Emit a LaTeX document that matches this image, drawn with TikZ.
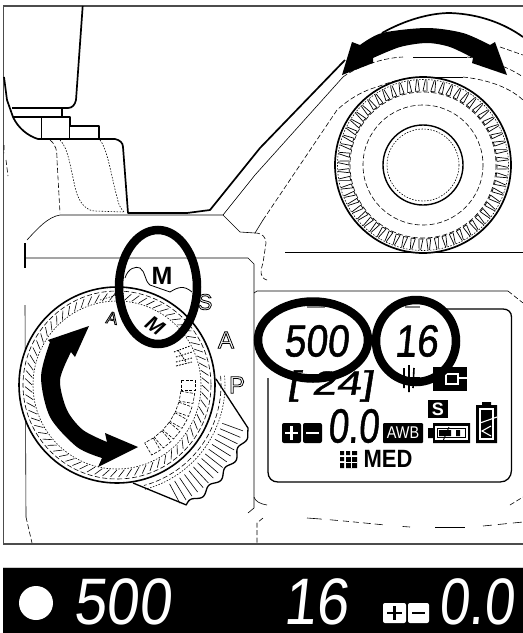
\documentclass[tikz,border=0pt]{standalone}
\usepackage{fontspec}
\setmainfont{Liberation Sans}
\newfontfamily\lcd[FakeSlant=0.12,FakeBold=1.2]{Liberation Sans}
\newfontfamily\lcdw[FakeSlant=0.12]{Liberation Sans}
\newcommand\outl[1]{\special{pdf:code 1 Tr 0.8 w}#1\special{pdf:code 0 Tr}}
\newcommand\fsz[1]{\fontsize{#1}{#1}\selectfont}
\tikzset{
  heavy/.style={line width=1.7pt,line join=round},
  medium/.style={line width=1.1pt,line join=round},
  thin line/.style={line width=0.6pt},
  dashy/.style={line width=0.6pt,dash pattern=on 5pt off 2.5pt},
  dotty/.style={line width=0.6pt,dash pattern=on 1.5pt off 1.5pt},
  ring/.style={line width=8.5pt},
  seg/.style={inner sep=0pt,font=\lcd},
  segw/.style={inner sep=0pt,font=\lcdw,text=white},
  hollow/.style={inner sep=0pt},
  inv/.style={fill=black,draw=none},
  w/.style={draw=white,line width=1.2pt}
}
\begin{document}
\begin{tikzpicture}[x=1pt,y=-1pt]
\useasboundingbox (0,0) rectangle (523,633);
\fill[white] (0,0) rectangle (523,633);
% frame
\draw[gray!60!black,line width=1.1pt] (523,6) -- (3.5,6) -- (3.5,544) -- (523,544);
% lens barrel
\draw[heavy] (82.7,6) -- (76,100) .. controls (75,105) and (72,108) .. (68,108) -- (12,108);
\draw[heavy] (4,77) -- (7,100) -- (13,117) .. controls (18,128) and (28,136) .. (38,139) -- (115,139) .. controls (120,140) and (123,143) .. (123,147) -- (128,213) -- (187,213) -- (210,210) -- (260,148) -- (345,60);
\draw[medium] (13,117) -- (70,117) -- (70,126) -- (99,126) -- (99,139);
\draw[medium] (62,108) -- (62,117);
\draw[thin line] (41,117) -- (41,139) (69,126) -- (69,139);
\draw[dashy] (50,140) .. controls (56,145) and (57,150) .. (57,160) -- (60,213);
\draw[dotty] (60,140) .. controls (68,148) and (70,165) .. (75,187) .. controls (79,205) and (88,211) .. (95,211) -- (123,212);
\draw[dotty] (100,140) .. controls (108,150) and (112,180) .. (117,197) .. controls (119,207) and (122,210) .. (125,213);
\draw[dashy] (4,145) -- (4,153) (6,160) -- (8,176);
% body contours
\draw[thin line] (27,240) .. controls (38,228) and (48,217) .. (60,215) -- (223,215) -- (240,232) -- (255,233);
\draw[dashy] (255,233) .. controls (263,233) and (266,238) .. (266,243) -- (263,263) .. controls (260,272) and (260,278) .. (267,280);
\draw[thin line] (223,215) -- (255,175);
\draw[thin line] (255,233) -- (263,220);
\draw[dashy] (263,220) -- (337,110) .. controls (350,98) and (365,90) .. (377,87) .. controls (390,82) and (400,79) .. (410,78);
\draw[thin line] (411,77) -- (463,77);
\draw[dashy] (463,77) .. controls (490,80) and (510,88) .. (523,100);
\draw[thin line] (255,175) -- (343,77);
\draw[dashy] (343,77) .. controls (355,68) and (380,58) .. (403,57);
\draw[thin line] (413,57) -- (467,57);
\draw[dashy] (467,57) .. controls (490,60) and (510,68) .. (523,77);
\draw[dashy] (500,47) -- (523,55);
\draw[heavy] (382,33) .. controls (405,20) and (430,13) .. (450,13) .. controls (480,14) and (505,24) .. (523,37);
\draw[thin line] (285,252) -- (523,252);
% top dial
\coordinate (d1) at (423,165);
\draw[heavy] (d1) circle[radius=88];
\draw[dotty] (d1) circle[radius=85.5];
\draw[dashy] (d1) circle[radius=73];
\foreach \a in {0,6,...,354}{
  \draw[line width=0.7pt] ([shift={(d1)}]\a:74) -- ([shift={(d1)}]\a+1.6:85);
  \draw[line width=0.7pt] ([shift={(d1)}]\a+2.6:85) -- ([shift={(d1)}]\a+3.2:74);
  \draw[line width=0.7pt] ([shift={(d1)}]\a:74) -- ([shift={(d1)}]\a+3.2:74);
}
\draw[dashy] (d1) circle[radius=60];
\draw[line width=1.4pt] (d1) circle[radius=40];
\draw[dotty] (d1) circle[radius=36];
% top arrow
\fill (342,75) -- (352,42) -- (360,45) -- plot[smooth] coordinates {(360,45) (382,33) (427,28) (463,33) (490,45)} -- (495,42) -- (507,75) -- (472,63) -- (473,58) -- plot[smooth] coordinates {(473,58) (450,47) (427,43) (400,47) (373,58)} -- (373,63) -- cycle;
% rear panel lines
\draw[thin line] (25,258) -- (248,258) -- (254,264) -- (254,497) .. controls (255,501) and (260,504) .. (267,505);
\draw[thin line] (254,497) -- (254,508) -- (248,513);
\draw[medium] (25,243) -- (25,268);
\draw[thin line] (25,305) -- (26,517);
\draw[dashy] (26,517) -- (32,543);
\draw[thin line] (254,293) -- (257,291) -- (508,291);
\draw[dashy] (508,291) -- (523,303);
\draw[dashy] (510,505) -- (523,497);
\draw[dashy] (263,518) -- (257,523) -- (257,543);
\draw[dashy,dash pattern=on 15pt off 8pt on 8pt off 5pt on 6pt off 4pt on 6pt off 4pt on 8pt off 4pt on 8pt off 20pt] (307,518) .. controls (350,521) and (380,525) .. (410,527);
\draw[thin line] (435,527) -- (465,527);
\draw[dashy,dash pattern=on 9pt off 6pt] (483,526) -- (523,522);
% outline letters on the body
\node[hollow] (lA) at (226,340) {\fsz{24}\outl{A}};
\node[hollow] (lP) at (237,385) {\fsz{24}\outl{P}};
\node[hollow] (lS) at (205,302) {\fsz{22}\outl{S}};
% grip of mode dial
\coordinate (d2) at (117,385);
\draw[line width=1.3pt,line join=round] (216,379) -- (248,428) -- plot[domain=21:60,samples=79,smooth] ({117+(138.5+2.5*sin(\x*36))*cos(\x)},{385+(138.5+2.5*sin(\x*36))*sin(\x)}) -- (133,483);
\foreach \a in {20,23,...,62}{
  \draw[line width=0.6pt] ([shift={(d2)}]\a:112) -- ([shift={(d2)}]\a:134);
}
\draw[dashy] ([shift={(d2)}]-5:104) arc[start angle=-5,end angle=75,radius=104];
\draw[dotty] ([shift={(d2)}]-5:108) arc[start angle=-5,end angle=75,radius=108];
% mode dial
\draw[line width=1.6pt,fill=white] (d2) circle[radius=98];
\draw[dashy] (d2) circle[radius=94];
\foreach \a in {0,5,...,355}{
  \draw[line width=0.6pt] ([shift={(d2)}]\a:85) -- ([shift={(d2)}]\a+4:92);
}
\draw[dotty] (d2) circle[radius=84];
\foreach \a in {0,10,...,60}{
  \draw[line width=0.6pt,dash pattern=on 3pt off 1.5pt,rotate around={-\a:(d2)}] (181,380) rectangle (195,390);
}
\node[hollow,rotate=-10] (dA) at (112,318) {\fsz{17}\outl{A}};
\node[hollow,rotate=-35] (dM) at (155,326) {\fsz{21}\bfseries\itshape M};
\draw[dotty,line width=0.9pt] (174,352) -- (190,346) (176,357) -- (192,352) (176,362) -- (192,358);
\draw[line width=0.8pt,dash pattern=on 2pt off 1pt] (176,366) -- (192,362) (178,350) -- (186,362);
\draw[dotty] (100,300) -- (120,294);
% dial arrow
\fill (48,340) -- (89,326) -- (75,357) -- (71,352) -- plot[smooth] coordinates {(71,352) (60,380) (67,410) (83,430) (107,442)} -- (105,433) -- (138,447) -- (98,467) -- (102,458) -- plot[smooth] coordinates {(102,458) (77,447) (50,417) (41,377) (50,342)} -- cycle;
% M pointer
\draw[line width=0.8pt] (125,278) .. controls (128,268) and (136,266) .. (140,268) .. controls (146,272) and (144,280) .. (150,285) -- (170,292) .. controls (178,287) and (184,285) .. (192,292);
\node[hollow] (mBold) at (162,276) {\fsz{25}\bfseries M};
% LCD frame
\draw[line width=1.3pt] (268,378) -- (268,472) .. controls (268,478) and (272,482) .. (278,482) -- (500,482) .. controls (507,482) and (511.5,477) .. (511.5,470) -- (511.5,317) .. controls (511.5,312) and (508,309) .. (503,309) -- (445,309);
\draw[gray,line width=1.1pt] (307,307) -- (325,307) (405,307) -- (420,307);
% LCD text
\node[seg,xscale=0.86] (t500) at (316,341) {\fsz{45}500};
\node[seg,xscale=0.86] (t16) at (416,341) {\fsz{45}16};
\node[seg,xscale=1.38,yscale=1.05] (t24) at (330,386) {\fsz{32}[ 24]};
\draw[line width=1.6pt] (404,368) -- (404,388) (409,365) -- (409,392) (414,368) -- (413,388);
\draw[line width=1.2pt] (395,378) -- (420,378);
% drive icon
\fill[inv] (433,367) rectangle (467,391);
\draw[w] (446,374) rectangle (458,384);
\draw[w] (458,378) -- (467,378) (433,378) -- (440,378) (446,366) -- (446,372);
% S box
\fill[inv] (428,400) rectangle (448,418);
\node[hollow,text=white] (tS) at (438,409) {\fsz{18}\bfseries S};
% card icon
\fill[inv] (433,423) rectangle (470,443) (428,428) rectangle (434,438);
\draw[w] (436,427) rectangle (467,439);
\fill[white] (438,429) rectangle (465,437);
\fill[inv] (439,430) rectangle (451,436) (456,430) rectangle (460,436);
\draw[line width=0.9pt] (443,441) -- (449,427);
% battery icon
\fill[inv] (476,405) rectangle (497,443) (482,402) rectangle (491,406);
\draw[white,line width=1.1pt] (480,409) rectangle (493,439);
\draw[white,line width=1.1pt] (480,423) -- (497,417);
\draw[white,line width=1.1pt] (491,426) -- (482,431) -- (491,436);
% plus minus
\fill[inv,rounded corners=2pt] (282,423) rectangle (301,443);
\fill[inv,rounded corners=2pt] (303,423) rectangle (322,443);
\draw[white,line width=2.2pt] (285,433) -- (298,433) (291.5,426) -- (291.5,440) (306,433) -- (319,433);
\node[seg,xscale=0.76] (t00) at (353,426) {\fsz{48}0.0};
\fill[inv,rounded corners=1pt] (383,423) rectangle (423,443);
\node[hollow,text=white,xscale=0.85] (tAWB) at (403,433) {\fsz{17}AWB};
% quality icon
\fill[inv] (340,451) rectangle (344,455) (346,451) rectangle (350,455) (352,451) rectangle (357,455)
 (340,457) rectangle (344,461) (346,457) rectangle (357,468)
 (340,463) rectangle (344,468);
\fill[white] (346,461.5) rectangle (357,463);
\fill[white] (350.8,457) rectangle (352,468);
\node[hollow,xscale=0.88] (tMED) at (388,459) {\fsz{25}\bfseries MED};
% black ellipses
\draw[ring] (158,287) ellipse[x radius=39,y radius=57];
\draw[ring] (313,340) ellipse[x radius=55,y radius=38.5];
\draw[ring] (416,341) ellipse[x radius=40,y radius=41];
% bottom bar
\fill[black] (3,568) rectangle (523,633);
\draw[gray!40,line width=0.8pt] (3,567.5) -- (523,567.5);
\fill[white] (36,603) circle[radius=17];
\node[segw,xscale=1.1,yscale=1.24] (b500) at (122,601.5) {\fsz{53}500};
\node[segw,xscale=1.1,yscale=1.24] (b16) at (316,601.5) {\fsz{53}16};
\node[segw,xscale=1.03,yscale=1.24] (b00) at (476,601.5) {\fsz{53}0.0};
\fill[white,rounded corners=2pt] (383,603) rectangle (406,623);
\fill[white,rounded corners=2pt] (408,603) rectangle (429,623);
\draw[black,line width=2.4pt] (387,613) -- (402,613) (394.5,606) -- (394.5,620) (412,613) -- (425,613);
\end{tikzpicture}
\end{document}
